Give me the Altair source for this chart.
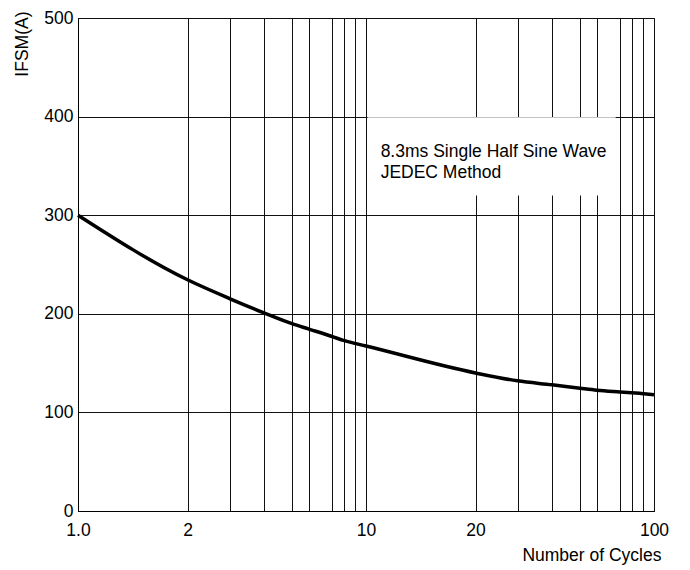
import altair as alt
import pandas as pd

# ---- data ----
cycles = [1, 2, 3, 4, 5, 6, 7, 8, 9, 10, 20, 30, 40, 50, 60, 70, 80, 90, 100]
ifsm = [300, 234.5, 215.5, 201, 190, 184.5, 177, 173, 170, 167.3,
        140, 132, 128, 124.5, 122.5, 120.8, 120, 119, 118]

grid_cycles = [1, 2, 3, 4, 5, 6, 7, 8, 9, 10, 20, 30, 40, 50, 60, 70, 80, 90, 100]
x_label_text = {1: "1.0", 2: "2", 10: "10", 20: "20", 100: "100"}
y_ticks = [0, 100, 200, 300, 400, 500]

note_lines = ["8.3ms Single Half Sine Wave", "JEDEC Method"]
note_x = [10.97, 10.97]
note_y = [358.7, 337.7]

box_x = [10.1]
box_x2 = [68]
box_y = [320]
box_y2 = [399.3]

# ---- styling / layout ----
W, H = 576, 493
FONT = "Liberation Sans"
FS = 17.5
# position of the printed grid lines inside one decade (the sheet's grid is not a true log grid)
decade_px = [0, 109.5, 151.5, 186, 214, 231, 254, 265.5, 277, 288]
x_range = decade_px + [288 + p for p in decade_px[1:]]

x_scale = alt.Scale(type="log", domain=grid_cycles, range=x_range, nice=False)
y_scale = alt.Scale(domain=[0, 500], nice=False, zero=True)

label_expr = " : ".join(
    f"datum.value == {k} ? '{v}'" for k, v in x_label_text.items()
) + " : ''"

curve = pd.DataFrame({"cycles": cycles, "ifsm": ifsm})
notes = pd.DataFrame({"x": note_x, "y": note_y, "t": note_lines})
box = pd.DataFrame({"x": box_x, "x2": box_x2, "y": box_y, "y2": box_y2})

x_axis = alt.Axis(
    values=grid_cycles, labelExpr=label_expr, grid=True, ticks=False, tickSize=0,
    labelPadding=10, labelOverlap=False, labelFlush=False,
    title="Number of Cycles", titleX=583, titleY=49, titleAlign="right",
    titleBaseline="alphabetic", titleFontWeight="normal",
)
y_axis = alt.Axis(
    values=y_ticks, grid=True, ticks=False, tickSize=0, labelPadding=5,
    title="IFSM(A)", titleAngle=270, titleAlign="right", titleBaseline="middle",
    titleX=-56, titleY=-7, titleFontWeight="normal",
)

line = alt.Chart(curve).mark_line(color="black", strokeWidth=3.5, interpolate="monotone").encode(
    x=alt.X("cycles:Q", scale=x_scale, axis=x_axis),
    y=alt.Y("ifsm:Q", scale=y_scale, axis=y_axis),
)

rect = alt.Chart(box).mark_rect(color="white", strokeWidth=0).encode(
    x=alt.X("x:Q", scale=x_scale, axis=x_axis),
    x2="x2:Q",
    y=alt.Y("y:Q", scale=y_scale, axis=y_axis),
    y2="y2:Q",
)

text = alt.Chart(notes).mark_text(
    align="left", baseline="alphabetic", fontSize=FS, font=FONT, color="black"
).encode(
    x=alt.X("x:Q", scale=x_scale, axis=x_axis),
    y=alt.Y("y:Q", scale=y_scale, axis=y_axis),
    text="t:N",
)

chart = alt.layer(line, rect, text).properties(
    width=W, height=H,
    padding={"left": 70, "top": 10, "right": 20, "bottom": 55},
    autosize=alt.AutoSizeParams(type="none"),
).configure(
    font=FONT,
).configure_view(
    stroke="black", strokeWidth=1,
).configure_axis(
    labelFont=FONT, titleFont=FONT, labelFontSize=FS, titleFontSize=FS,
    labelColor="black", titleColor="black",
    domainColor="black", domainWidth=1,
    gridColor="#111111", gridWidth=1, gridOpacity=1,
)

chart.save("out.html", embed_options={"renderer": "svg", "actions": False})
